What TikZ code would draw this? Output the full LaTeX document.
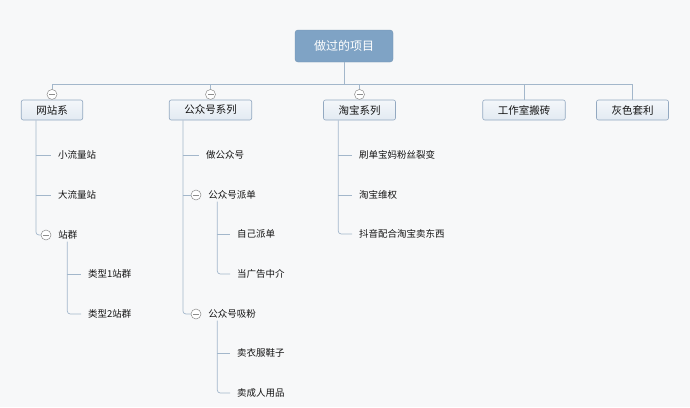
\documentclass[tikz,border=0pt]{standalone}
\usepackage{fontspec}
\setmainfont{Noto Sans CJK SC}
\usetikzlibrary{positioning, calc}
\definecolor{bgcol}{HTML}{F7F8F9}
\definecolor{linecol}{HTML}{A3B7CB}
\definecolor{rootcol}{HTML}{7FA3C5}
\definecolor{boxtop}{HTML}{F4F7FA}
\definecolor{boxbot}{HTML}{E2EAF2}
\definecolor{boxline}{HTML}{93A9C1}
\definecolor{foldcol}{HTML}{8C8C8C}
\definecolor{txtcol}{HTML}{141414}

\begin{document}
\begin{tikzpicture}[
    x=1pt, y=-1pt,
    rootbox/.style={rectangle, rounded corners=3pt, fill=rootcol, draw=rootcol!90!black, minimum width=98pt, minimum height=32pt, text=white, font=\fontsize{12}{14}\selectfont},
    topicbox/.style={rectangle, rounded corners=2pt, top color=boxtop, bottom color=boxbot, draw=boxline, line width=0.6pt, inner xsep=15pt, minimum height=20pt, text=txtcol, font=\fontsize{10.5}{12}\selectfont},
    leaf/.style={anchor=west, inner xsep=7pt, inner ysep=2pt, text=txtcol, font=\fontsize{9.5}{11}\selectfont},
    fold/.style={circle, draw=foldcol, fill=white, line width=0.5pt, minimum size=10pt, inner sep=0pt,
        path picture={\draw[foldcol, line width=0.5pt] ([xshift=2pt]path picture bounding box.west) -- ([xshift=-2pt]path picture bounding box.east);}},
    link/.style={draw=linecol, line width=0.7pt}
]
\fill[bgcol] (0,0) rectangle (690,407);

% root and main topics
\node[rootbox] (root) at (344,46) {做过的项目};
\coordinate (bus) at (344,84);
\node[topicbox] (web) at (52,110) {网站系};
\node[topicbox] (gzh) at (210.5,110) {公众号系列};
\node[topicbox] (tb) at (359.5,110) {淘宝系列};
\node[topicbox] (studio) at (524,110) {工作室搬砖};
\node[topicbox] (gray) at (632.5,110) {灰色套利};
\node[fold, above=0pt of web] (fweb) {};
\node[fold, above=0pt of gzh] (fgzh) {};
\node[fold, above=0pt of tb] (ftb) {};

\draw[link] (root) -- (bus);
\draw[link] (fweb.north) |- (gray.north |- bus) -- (gray.north);
\draw[link] (fgzh.north) -- (fgzh.north |- bus);
\draw[link] (ftb.north) -- (ftb.north |- bus);
\draw[link] (studio.north) -- (studio.north |- bus);

% 网站系
\coordinate (webtrunk) at ($(web.south west)+(15,0)$);
\node[leaf] (small) at (51,155) {小流量站};
\node[leaf] (big) at (51,195) {大流量站};
\node[fold] (fzq) at (46,235) {};
\node[leaf] (zq) at (fzq.east) {站群};
\draw[link, rounded corners=3pt] (webtrunk) |- (fzq.west);
\draw[link] (webtrunk |- small.west) -- (small.west);
\draw[link] (webtrunk |- big.west) -- (big.west);

\coordinate (zqtrunk) at ($(zq.south west)+(16,0)$);
\node[leaf] (zq1) at (81,274) {类型1站群};
\node[leaf] (zq2) at (81,314) {类型2站群};
\draw[link, rounded corners=3pt] (zqtrunk) |- (zq2.west);
\draw[link] (zqtrunk |- zq1.west) -- (zq1.west);

% 公众号系列
\coordinate (gzhtrunk) at ($(gzh.south west)+(14,0)$);
\node[leaf] (dogzh) at (199,155) {做公众号};
\node[fold] (fpd) at (196,195) {};
\node[leaf] (pd) at (fpd.east) {公众号派单};
\node[fold] (fxf) at (196,314) {};
\node[leaf] (xf) at (fxf.east) {公众号吸粉};
\draw[link, rounded corners=3pt] (gzhtrunk) |- (fxf.west);
\draw[link] (gzhtrunk |- dogzh.west) -- (dogzh.west);
\draw[link] (gzhtrunk |- fpd.west) -- (fpd.west);

\coordinate (pdtrunk) at ($(pd.south west)+(16,0)$);
\node[leaf] (selfpd) at (230,234) {自己派单};
\node[leaf] (agent) at (230,274) {当广告中介};
\draw[link, rounded corners=3pt] (pdtrunk) |- (agent.west);
\draw[link] (pdtrunk |- selfpd.west) -- (selfpd.west);

\coordinate (xftrunk) at ($(xf.south west)+(16,0)$);
\node[leaf] (clothes) at (230,353) {卖衣服鞋子};
\node[leaf] (adult) at (230,393) {卖成人用品};
\draw[link, rounded corners=3pt] (xftrunk) |- (adult.west);
\draw[link] (xftrunk |- clothes.west) -- (clothes.west);

% 淘宝系列
\coordinate (tbtrunk) at ($(tb.south west)+(15,0)$);
\node[leaf] (brush) at (352,155) {刷单宝妈粉丝裂变};
\node[leaf] (rights) at (352,195) {淘宝维权};
\node[leaf] (douyin) at (352,234) {抖音配合淘宝卖东西};
\draw[link, rounded corners=3pt] (tbtrunk) |- (douyin.west);
\draw[link] (tbtrunk |- brush.west) -- (brush.west);
\draw[link] (tbtrunk |- rights.west) -- (rights.west);
\end{tikzpicture}
\end{document}
